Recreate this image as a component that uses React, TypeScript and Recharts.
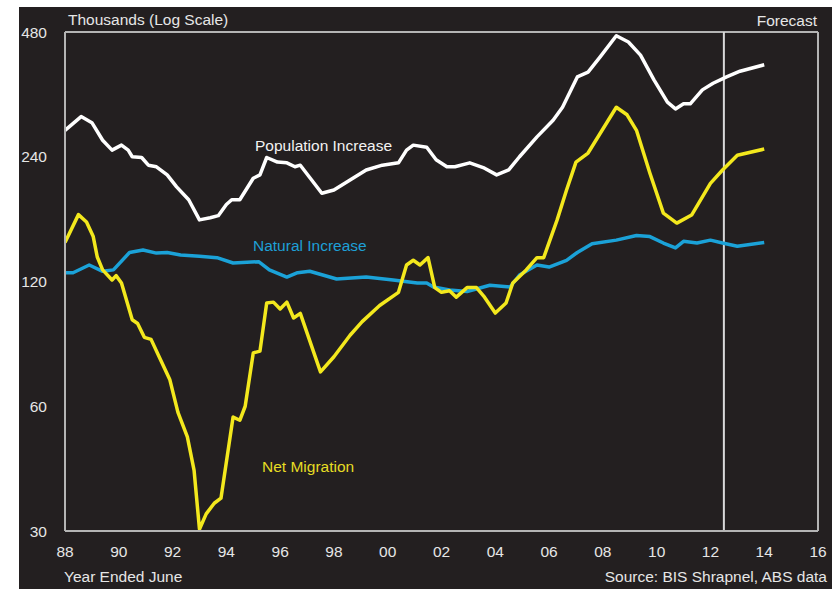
import React from "react";
import { LineChart, Line, XAxis, YAxis, ReferenceLine } from "recharts";

// ---- Data (thousands, log scale), year ended June ----
const popYears = [1988.0, 1988.6, 1989.0, 1989.4, 1989.75, 1990.1, 1990.35, 1990.5, 1990.85, 1991.1, 1991.4, 1991.8, 1992.15, 1992.6, 1993.0, 1993.4, 1993.7, 1994.0, 1994.2, 1994.5, 1995.0, 1995.25, 1995.5, 1995.9, 1996.25, 1996.55, 1996.75, 1997.55, 1998.0, 1998.6, 1999.2, 1999.8, 2000.4, 2000.7, 2000.95, 2001.45, 2001.8, 2002.2, 2002.5, 2003.05, 2003.55, 2004.05, 2004.5, 2004.9, 2005.55, 2006.15, 2006.5, 2007.05, 2007.45, 2007.9, 2008.5, 2008.95, 2009.4, 2009.9, 2010.4, 2010.7, 2011.0, 2011.25, 2011.7, 2012.1, 2012.6, 2013.1, 2014.0];
const popValues = [278, 300, 290, 263, 249, 256, 249, 240, 239, 229, 227, 217, 203, 189, 169, 171, 173, 184, 189, 189, 213, 217, 239, 233, 232, 227, 229, 196, 199.5, 211, 223, 229, 232, 249, 256, 253, 236, 227, 227, 232, 226, 217, 223, 240, 268, 294, 316, 374, 384, 418, 470, 454, 422, 368, 325, 313, 322, 322, 348, 361, 374, 386, 400];

const migYears = [1988.0, 1988.5, 1988.8, 1989.05, 1989.2, 1989.4, 1989.75, 1989.9, 1990.1, 1990.5, 1990.7, 1990.95, 1991.2, 1991.5, 1991.9, 1992.2, 1992.55, 1992.8, 1993.0, 1993.25, 1993.55, 1993.8, 1994.25, 1994.5, 1994.7, 1995.0, 1995.25, 1995.5, 1995.75, 1996.0, 1996.25, 1996.5, 1996.75, 1997.5, 1998.0, 1998.6, 1999.05, 1999.7, 2000.4, 2000.7, 2000.95, 2001.2, 2001.5, 2001.75, 2002.0, 2002.3, 2002.55, 2002.95, 2003.3, 2003.6, 2004.0, 2004.4, 2004.65, 2005.15, 2005.55, 2005.8, 2006.3, 2006.65, 2007.0, 2007.45, 2008.5, 2008.9, 2009.25, 2009.75, 2010.25, 2010.75, 2011.3, 2012.0, 2012.45, 2013.0, 2014.0];
const migValues = [149, 174, 167, 154, 137.5, 128, 121, 124, 119, 97, 95, 88, 87, 79, 69.5, 58, 50.6, 42, 30.3, 33, 35, 36, 56.5, 55.5, 60, 80.7, 81.5, 106.5, 107, 103, 107, 98, 100.5, 72.6, 79, 89, 96, 105, 113, 131.5, 135, 131.5, 137, 116, 113, 114, 110, 116, 116, 110, 100.7, 106.5, 119, 128, 137, 137, 169, 199.5, 233, 245, 316, 303, 278, 219, 175.5, 166, 173.6, 207, 223, 242, 250.5];

const natYears = [1988.0, 1988.3, 1988.9, 1989.4, 1989.8, 1990.4, 1990.9, 1991.4, 1991.8, 1992.3, 1993.0, 1993.65, 1994.25, 1995.2, 1995.6, 1996.25, 1996.65, 1997.1, 1998.1, 1999.2, 2000.2, 2001.1, 2001.45, 2001.7, 2002.3, 2002.95, 2003.8, 2004.55, 2004.9, 2005.55, 2006.0, 2006.65, 2007.05, 2007.6, 2008.5, 2009.25, 2009.75, 2010.25, 2010.7, 2011.0, 2011.5, 2012.0, 2012.45, 2013.0, 2014.0];
const natValues = [126, 126, 131.5, 127, 128, 141, 143, 140.5, 141, 139, 138, 137, 133, 134, 128, 123, 126, 127, 121.7, 123, 121, 119, 119, 116.4, 114.5, 113.5, 117.5, 116.4, 124.4, 131.5, 130, 135, 141, 148, 151, 155, 154, 148.6, 144.6, 150, 148.6, 151, 148.6, 146, 149];

const xTicks = [1988, 1990, 1992, 1994, 1996, 1998, 2000, 2002, 2004, 2006, 2008, 2010, 2012, 2014, 2016];
const xTickLabels = ["88", "90", "92", "94", "96", "98", "00", "02", "04", "06", "08", "10", "12", "14", "16"];
const yTicks = [30, 60, 120, 240, 480];
const forecastStart = 2012.5;

const toSeries = (xs: number[], vs: number[]) => xs.map((x, i) => ({ x, v: vs[i] }));
const popData = toSeries(popYears, popValues);
const migData = toSeries(migYears, migValues);
const natData = toSeries(natYears, natValues);

const FONT = '"Liberation Sans", Arial, Helvetica, sans-serif';
const FS = 15.5;
const TXT = "#e6e6e6";
const FRAME = "#b4b4b4";
const WHITE = "#ffffff";
const YELLOW = "#f3e81d";
const BLUE = "#1ba2d8";

const label = (left: number, top: number, text: string, color: string, align: "left" | "right" = "left") => (
  <div
    style={{
      position: "absolute",
      top,
      ...(align === "left" ? { left } : { right: left }),
      color,
      fontSize: FS,
      lineHeight: `${FS}px`,
      whiteSpace: "nowrap",
      fontFamily: FONT,
    }}
  >
    {text}
  </div>
);

export default function App() {
  // wrapper placed at page (19,7)
  return (
    <div
      style={{
        position: "absolute",
        left: 19,
        top: 7,
        width: 813,
        height: 582,
        background: "#231f20",
        fontFamily: FONT,
        overflow: "hidden",
      }}
    >
      <LineChart width={813} height={582} margin={{ top: 25, right: 14, bottom: 0, left: 0 }}>
        <XAxis
          dataKey="x"
          type="number"
          domain={[1988, 2016]}
          ticks={xTicks}
          tickFormatter={(v: number) => xTickLabels[xTicks.indexOf(v)] ?? ""}
          height={58}
          tickLine={false}
          tickSize={0}
          tickMargin={15}
          axisLine={{ stroke: FRAME, strokeWidth: 2 }}
          tick={{ fill: TXT, fontSize: FS, fontFamily: FONT }}
          allowDataOverflow
        />
        <YAxis
          type="number"
          scale="log"
          domain={[30, 480]}
          ticks={yTicks}
          width={46}
          tickLine={false}
          tickSize={0}
          tickMargin={18}
          axisLine={{ stroke: FRAME, strokeWidth: 2 }}
          tick={{ fill: TXT, fontSize: FS, fontFamily: FONT }}
          allowDataOverflow
        />
        <ReferenceLine y={480} stroke={FRAME} strokeWidth={2} />
        <ReferenceLine x={2016} stroke={FRAME} strokeWidth={2} />
        <ReferenceLine x={forecastStart} stroke="#d8d8d8" strokeWidth={2} />
        <Line data={natData} dataKey="v" type="linear" stroke={BLUE} strokeWidth={3.5} dot={false} isAnimationActive={false} strokeLinejoin="round" />
        <Line data={migData} dataKey="v" type="linear" stroke={YELLOW} strokeWidth={3.5} dot={false} isAnimationActive={false} strokeLinejoin="round" />
        <Line data={popData} dataKey="v" type="linear" stroke={WHITE} strokeWidth={3.5} dot={false} isAnimationActive={false} strokeLinejoin="round" />
      </LineChart>
      {label(49, 5, "Thousands (Log Scale)", TXT)}
      {label(15, 6, "Forecast", TXT, "right")}
      {label(236, 131, "Population Increase", "#f2f2f2")}
      {label(234, 231, "Natural Increase", "#1e9fd6")}
      {label(243, 452, "Net Migration", "#e6dc24")}
      {label(45, 562, "Year Ended June", TXT)}
      {label(5, 562, "Source: BIS Shrapnel, ABS data", TXT, "right")}
    </div>
  );
}
